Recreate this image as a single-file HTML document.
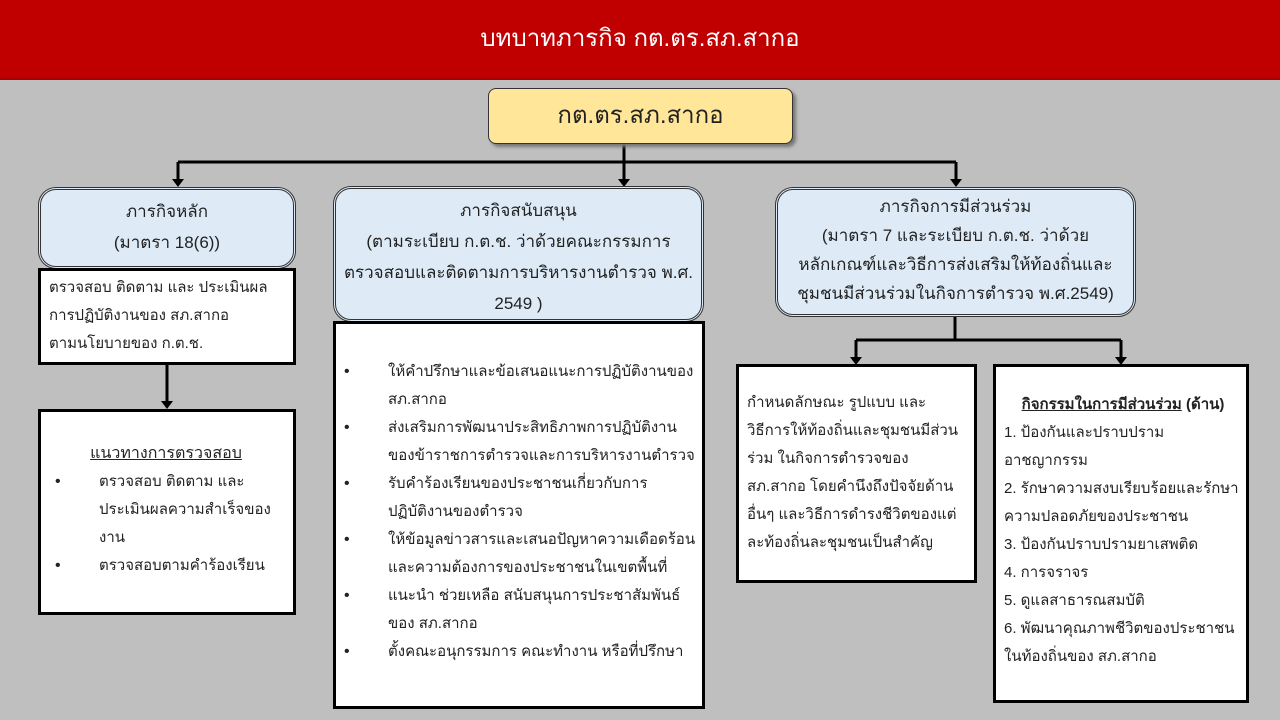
<!DOCTYPE html>
<html><head><meta charset="utf-8"><style>
*{margin:0;padding:0;box-sizing:border-box}
body{width:1280px;height:720px;background:#bfbfbf;position:relative;overflow:hidden;font-family:"Liberation Sans",sans-serif;color:#222}
.hdr{position:absolute;left:0;top:0;width:1280px;height:80px;background:#c00000;color:#fff;font-size:24px;text-align:center;line-height:78px;border-bottom:2px solid #a00}
.b{position:absolute}
.top{left:488px;top:88px;width:305px;height:56px;background:#ffe699;border:1px solid #333;border-radius:8px;box-shadow:3px 3px 3px #777;font-size:24px;text-align:center;line-height:54px}
.hd{background:#deebf7;border:3px double #333;border-radius:18px;text-align:center;font-size:17px;line-height:31px;padding-top:6px}
.bx{background:#fff;border:3px solid #000;font-size:15px;line-height:28px;white-space:nowrap}
ul{list-style:none}
li{position:relative;padding-left:52px}
li:before{content:"•";position:absolute;left:8px;top:0;font-size:16px}
svg{position:absolute;left:0;top:0}
</style></head><body>
<div class="hdr">บทบาทภารกิจ กต.ตร.สภ.สากอ</div>
<svg width="1280" height="720">
<g stroke="#000" stroke-width="3" fill="none">
<path d="M624 144V162M178 162H956M178 162V180M624 162V180M956 162V180M167 364V402M955 316V340M856 340H1121M856 340V358M1121 340V358"/>
</g>
<g fill="#000">
<path d="M172 179h12l-6 8z"/><path d="M618 179h12l-6 8z"/><path d="M950 179h12l-6 8z"/>
<path d="M161 401h12l-6 8z"/><path d="M850 357h12l-6 8z"/><path d="M1115 357h12l-6 8z"/>
</g>
</svg>
<div class="b top">กต.ตร.สภ.สากอ</div>
<div class="b hd" style="left:38px;top:187px;width:258px;height:82px">ภารกิจหลัก<br>(มาตรา 18(6))</div>
<div class="b bx" style="left:38px;top:268px;width:258px;height:97px;padding:3px 0 0 8px">ตรวจสอบ ติดตาม และ ประเมินผล<br>การปฏิบัติงานของ สภ.สากอ<br>ตามนโยบายของ ก.ต.ช.</div>
<div class="b bx" style="left:38px;top:409px;width:258px;height:206px;padding:28px 8px 0 6px">
<div style="text-align:center;text-decoration:underline;font-size:16px">แนวทางการตรวจสอบ</div>
<ul><li>ตรวจสอบ ติดตาม และ<br>ประเมินผลความสำเร็จของ<br>งาน</li><li>ตรวจสอบตามคำร้องเรียน</li></ul></div>
<div class="b hd" style="left:333px;top:186px;width:371px;height:136px;line-height:31px">ภารกิจสนับสนุน<br>(ตามระเบียบ ก.ต.ช. ว่าด้วยคณะกรรมการ<br>ตรวจสอบและติดตามการบริหารงานตำรวจ พ.ศ.<br>2549 )</div>
<div class="b bx" style="left:333px;top:321px;width:372px;height:388px;padding:34px 6px 0 0">
<ul>
<li>ให้คำปรึกษาและข้อเสนอแนะการปฏิบัติงานของ<br>สภ.สากอ</li>
<li>ส่งเสริมการพัฒนาประสิทธิภาพการปฏิบัติงาน<br>ของข้าราชการตำรวจและการบริหารงานตำรวจ</li>
<li>รับคำร้องเรียนของประชาชนเกี่ยวกับการ<br>ปฏิบัติงานของตำรวจ</li>
<li>ให้ข้อมูลข่าวสารและเสนอปัญหาความเดือดร้อน<br>และความต้องการของประชาชนในเขตพื้นที่</li>
<li>แนะนำ ช่วยเหลือ สนับสนุนการประชาสัมพันธ์<br>ของ สภ.สากอ</li>
<li>ตั้งคณะอนุกรรมการ คณะทำงาน หรือที่ปรึกษา</li>
</ul></div>
<div class="b hd" style="left:775px;top:187px;width:361px;height:130px;line-height:29px;padding-top:2px">ภารกิจการมีส่วนร่วม<br>(มาตรา 7 และระเบียบ ก.ต.ช. ว่าด้วย<br>หลักเกณฑ์และวิธีการส่งเสริมให้ท้องถิ่นและ<br>ชุมชนมีส่วนร่วมในกิจการตำรวจ พ.ศ.2549)</div>
<div class="b bx" style="left:736px;top:364px;width:241px;height:219px;padding:22px 4px 0 8px">กำหนดลักษณะ รูปแบบ และ<br>วิธีการให้ท้องถิ่นและชุมชนมีส่วน<br>ร่วม ในกิจการตำรวจของ<br>สภ.สากอ โดยคำนึงถึงปัจจัยด้าน<br>อื่นๆ และวิธีการดำรงชีวิตของแต่<br>ละท้องถิ่นละชุมชนเป็นสำคัญ</div>
<div class="b bx" style="left:993px;top:364px;width:256px;height:339px;padding:24px 4px 0 8px">
<div style="text-align:center;font-weight:bold"><u>กิจกรรมในการมีส่วนร่วม</u> (ด้าน)</div>
1. ป้องกันและปราบปราม<br>อาชญากรรม<br>2. รักษาความสงบเรียบร้อยและรักษา<br>ความปลอดภัยของประชาชน<br>3. ป้องกันปราบปรามยาเสพติด<br>4. การจราจร<br>5. ดูแลสาธารณสมบัติ<br>6. พัฒนาคุณภาพชีวิตของประชาชน<br>ในท้องถิ่นของ สภ.สากอ</div>
</body></html>
